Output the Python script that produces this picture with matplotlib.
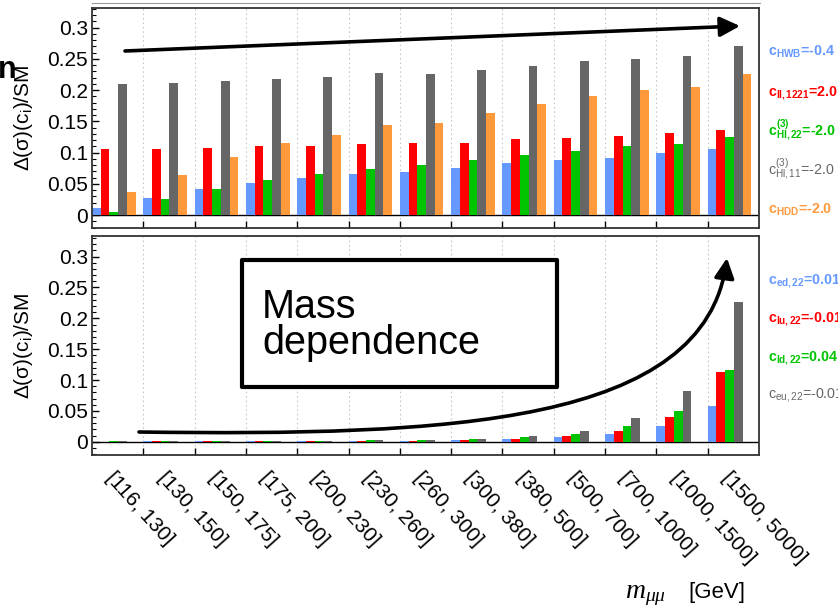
import numpy as np
import matplotlib
matplotlib.use("Agg")
import matplotlib.pyplot as plt
from matplotlib.patches import FancyArrowPatch, Rectangle
from matplotlib.path import Path
from matplotlib.lines import Line2D
from matplotlib.transforms import blended_transform_factory

plt.rcParams["font.family"] = ["Liberation Sans", "DejaVu Sans"]
plt.rcParams["mathtext.fontset"] = "custom"
plt.rcParams["mathtext.rm"] = "Liberation Sans"
plt.rcParams["mathtext.bf"] = "Liberation Sans:bold"
plt.rcParams["mathtext.it"] = "Liberation Serif:italic"

# mass bins (GeV)
bins = ["[116, 130]", "[130, 150]", "[150, 175]", "[175, 200]", "[200, 230]",
        "[230, 260]", "[260, 300]", "[300, 380]", "[380, 500]", "[500, 700]",
        "[700, 1000]", "[1000, 1500]", "[1500, 5000]"]

# top panel: Delta(sigma)(c_i)/SM
c_HWB = [0.011, 0.027, 0.041, 0.052, 0.060, 0.066, 0.069, 0.076, 0.083, 0.088, 0.092, 0.099, 0.105]
c_ll1221 = [0.105, 0.106, 0.108, 0.110, 0.110, 0.114, 0.115, 0.116, 0.121, 0.123, 0.127, 0.131, 0.136]
c_Hl3_22 = [0.005, 0.026, 0.042, 0.056, 0.066, 0.074, 0.080, 0.088, 0.096, 0.103, 0.110, 0.113, 0.125]
c_Hl3_11 = [0.209, 0.212, 0.215, 0.218, 0.221, 0.227, 0.226, 0.233, 0.238, 0.247, 0.250, 0.255, 0.271]
c_HDD = [0.037, 0.064, 0.093, 0.116, 0.128, 0.144, 0.148, 0.163, 0.177, 0.190, 0.200, 0.205, 0.226]

# bottom panel: four-fermion operators
c_ed22 = [0.0002, 0.0003, 0.0004, 0.0006, 0.0008, 0.0011, 0.0015, 0.002, 0.004, 0.007, 0.0124, 0.0254, 0.0584]
c_lu22 = [0.0002, 0.0003, 0.0005, 0.0007, 0.0009, 0.0012, 0.0018, 0.0025, 0.0043, 0.0086, 0.0178, 0.0405, 0.1124]
c_ld22 = [0.0004, 0.0006, 0.0008, 0.0011, 0.0015, 0.002, 0.003, 0.004, 0.0076, 0.013, 0.0254, 0.050, 0.116]
c_eu22 = [0.0004, 0.0006, 0.0009, 0.0012, 0.0016, 0.0022, 0.0032, 0.005, 0.009, 0.018, 0.0378, 0.0816, 0.226]

ytick_vals = [0, 0.05, 0.1, 0.15, 0.2, 0.25, 0.3]
ytick_labels = ["0", "0.05", "0.1", "0.15", "0.2", "0.25", "0.3"]

BLUE, RED, GREEN, GRAY, ORANGE = "#6699ff", "#ff0000", "#00c400", "#666666", "#ff9a3c"

top_series = [(c_HWB, BLUE), (c_ll1221, RED), (c_Hl3_22, GREEN), (c_Hl3_11, GRAY), (c_HDD, ORANGE)]
bot_series = [(c_ed22, BLUE), (c_lu22, RED), (c_ld22, GREEN), (c_eu22, GRAY)]

top_legend = [
    (r"c$_{\mathbf{HWB}}$=-0.4", BLUE, "bold"),
    (r"c$_{\mathbf{ll,1221}}$=2.0", RED, "bold"),
    (r"c$^{\mathbf{(3)}}_{\mathbf{Hl,22}}$=-2.0", GREEN, "bold"),
    (r"c$^{\mathrm{(3)}}_{\mathrm{Hl,11}}$=-2.0", GRAY, "normal"),
    (r"c$_{\mathbf{HDD}}$=-2.0", ORANGE, "bold"),
]
bot_legend = [
    (r"c$_{\mathbf{ed,22}}$=0.01", BLUE, "bold"),
    (r"c$_{\mathbf{lu,22}}$=-0.01", RED, "bold"),
    (r"c$_{\mathbf{ld,22}}$=0.04", GREEN, "bold"),
    (r"c$_{\mathrm{eu,22}}$=-0.01", GRAY, "normal"),
]

W, H = 838, 607


def fx(x):
    return x / W


def fy(y):
    return 1 - y / H


fig = plt.figure(figsize=(W / 100, H / 100), dpi=100)
ax_top = fig.add_axes([fx(92), fy(228), (759 - 92) / W, (228 - 8) / H])
ax_bot = fig.add_axes([fx(92), fy(455), (759 - 92) / W, (455 - 236) / H])

bar_w = 0.17
x = np.arange(len(bins))


def style(ax, ylim):
    ax.set_xlim(0, len(bins))
    ax.set_ylim(*ylim)
    ax.set_xticks(np.arange(1, len(bins)))
    ax.set_xticklabels([])
    ax.set_yticks(ytick_vals)
    ax.set_yticklabels(ytick_labels)
    ax.set_yticks(np.round(np.arange(-0.02, 0.335, 0.01), 2), minor=True)
    ax.tick_params(axis="y", which="major", direction="in", length=5, width=1, labelsize=15, pad=3)
    ax.tick_params(axis="y", which="minor", direction="in", length=3, width=0.8)
    ax.tick_params(axis="x", which="major", direction="in", length=5, width=1)
    ax.xaxis.grid(True, color="#c8c8c8", ls=(0, (1.5, 2.5)), lw=0.8)
    ax.set_axisbelow(True)
    ax.axhline(0, color="black", lw=1, zorder=1)
    for s in ax.spines.values():
        s.set_color("#333333")
        s.set_linewidth(1.3)
    ax.set_ylabel(r"Δ(σ)(c$_{\mathrm{i}}$)/SM", fontsize=15)
    ax.yaxis.set_label_coords(-0.085, 0.5)


for k, (vals, col) in enumerate(top_series):
    ax_top.bar(x + k * bar_w, vals, width=bar_w, align="edge", color=col, zorder=2)
for k, (vals, col) in enumerate(bot_series):
    ax_bot.bar(x + k * bar_w, vals, width=bar_w, align="edge", color=col, zorder=2)

style(ax_top, (-0.0208, 0.3315))
style(ax_bot, (-0.0216, 0.3335))

# rotated bin labels under the bottom panel
tr = blended_transform_factory(ax_bot.transData, ax_bot.transAxes)
for i, lab in enumerate(bins):
    ax_bot.text(i + 0.2, -0.06, lab, transform=tr, rotation=-48, ha="left", va="top", fontsize=15)

# coefficient labels on the right
for j, (txt, col, wt) in enumerate(top_legend):
    fig.text(fx(768), fy(56 + j * 39.5), txt, color=col, fontweight=wt, fontsize=10.3, va="baseline")
for j, (txt, col, wt) in enumerate(bot_legend):
    fig.text(fx(768), fy(283 + j * 38.5), txt, color=col, fontweight=wt, fontsize=10.3, va="baseline")

# axis title
fig.text(fx(625), fy(598), r"$m_{\mu\mu}$", fontsize=20, va="baseline")
fig.text(fx(688), fy(598), "[GeV]", fontsize=16, va="baseline")

# slide leftovers
fig.text(fx(-2), fy(78), "n", fontsize=22, fontweight="bold", va="baseline", ha="left")
fig.add_artist(Line2D([fx(92), fx(760)], [fy(3), fy(3)], color="#999999", lw=0.8))

# straight arrow in the top panel
fig.add_artist(FancyArrowPatch((fx(125), fy(51)), (fx(740), fy(26)), transform=fig.transFigure,
                               arrowstyle="-|>,head_length=0.6,head_width=0.3", mutation_scale=20,
                               lw=2.6, color="black", shrinkA=0, shrinkB=0))

# curved arrow in the bottom panel
curve = Path([(fx(139), fy(432)), (fx(450), fy(436)), (fx(705), fy(425)), (fx(727), fy(258))],
             [Path.MOVETO, Path.CURVE4, Path.CURVE4, Path.CURVE4])
fig.add_artist(FancyArrowPatch(path=curve, transform=fig.transFigure,
                               arrowstyle="-|>,head_length=0.6,head_width=0.3", mutation_scale=20,
                               lw=2.6, color="black"))

# "Mass dependence" box
fig.add_artist(Rectangle((fx(241.7), fy(386.7)), (556.7 - 241.7) / W, (386.7 - 260) / H,
                         transform=fig.transFigure, facecolor="white", edgecolor="black",
                         lw=3, joinstyle="round"))
fig.text(fx(262), fy(318), "Mass", fontsize=28.5, va="baseline")
fig.text(fx(262), fy(354), "dependence", fontsize=28.5, va="baseline")

fig.savefig("out.png", dpi=100)
